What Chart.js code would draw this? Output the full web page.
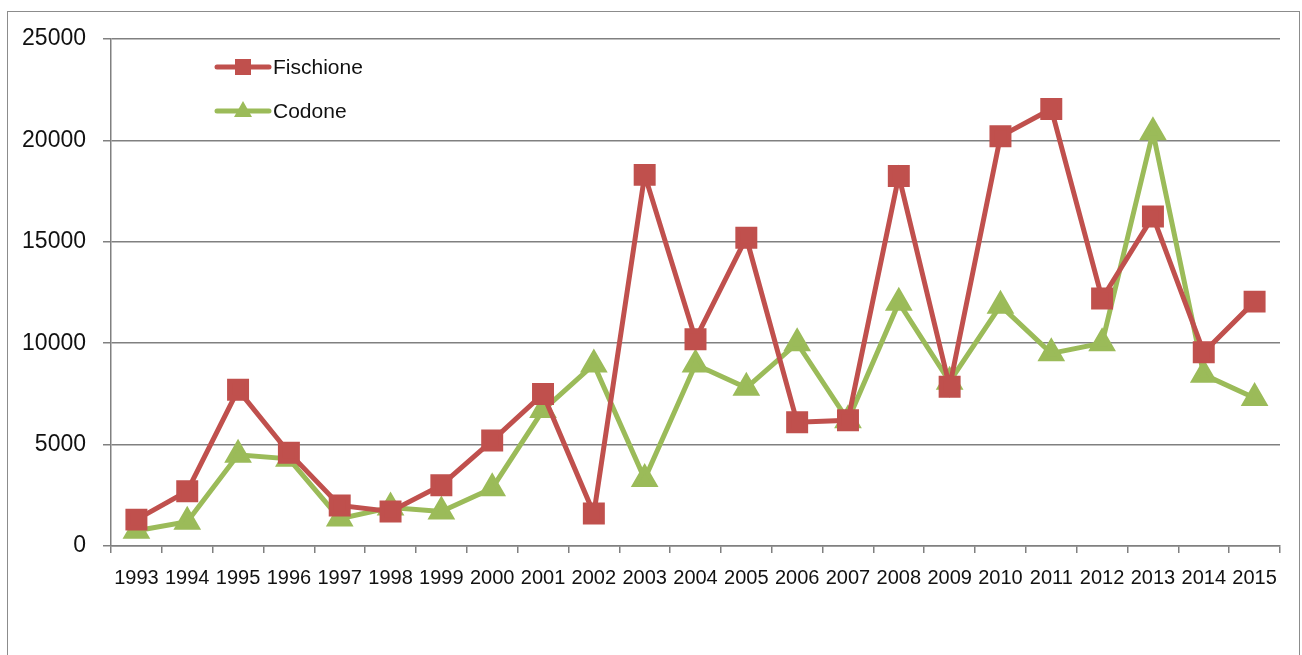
<!DOCTYPE html>
<html>
<head>
<meta charset="utf-8">
<script src="https://cdn.jsdelivr.net/npm/chart.js@4/dist/chart.umd.min.js"></script>
<style>
    html, body { margin: 0; padding: 0; background: #fff; overflow: hidden; }
    #wrap { position: absolute; left: 0; top: 0; width: 1302px; height: 655px; }
    #frame { position: absolute; left: 7px; top: 11px; width: 1291px; height: 700px; border: 1.5px solid #8c8c8c; }
</style>
</head>
<body>
<div id="frame"></div>
<div id="wrap"><canvas id="myChart"></canvas></div>
<script>
const years = [
    "1993", "1994", "1995", "1996", "1997", "1998", "1999", "2000", "2001", "2002", "2003", "2004",
    "2005", "2006", "2007", "2008", "2009", "2010", "2011", "2012", "2013", "2014", "2015"
];
const fischione = [
    1300, 2700, 7700, 4600, 2000, 1700, 3000, 5200, 7500, 1600, 18300, 10200,
    15200, 6100, 6200, 18250, 7850, 20200, 21550, 12200, 16250, 9550, 12050
];
const codone = [
    750, 1200, 4500, 4300, 1350, 1900, 1700, 2850, 6700, 8950, 3300, 8950,
    7800, 10000, 6200, 12000, 8100, 11850, 9500, 10000, 20400, 8450, 7300
];
const yTicks = [0, 5000, 10000, 15000, 20000, 25000];

const gridColor = "#808080";
const font = "'Liberation Sans', Arial, sans-serif";

// legend drawn inside the plot, top left
const insideLegend = {
    id: "insideLegend",
    afterDatasetsDraw(chart) {
        const ctx = chart.ctx;
        const area = chart.chartArea;
        const x0 = area.left + 106;
        let y = area.top + 28;
        ctx.save();
        chart.data.datasets.forEach((ds) => {
            ctx.strokeStyle = ds.borderColor;
            ctx.fillStyle = ds.borderColor;
            ctx.lineWidth = 5;
            ctx.lineCap = "round";
            ctx.beginPath();
            ctx.moveTo(x0, y);
            ctx.lineTo(x0 + 52, y);
            ctx.stroke();
            const cx = x0 + 26;
            ctx.beginPath();
            if (ds.pointStyle === "rect") {
                ctx.rect(cx - 8, y - 8, 16, 16);
            } else {
                ctx.moveTo(cx, y - 10);
                ctx.lineTo(cx + 9, y + 6);
                ctx.lineTo(cx - 9, y + 6);
                ctx.closePath();
            }
            ctx.fill();
            ctx.fillStyle = "#111";
            ctx.font = "21px " + font;
            ctx.textBaseline = "middle";
            ctx.fillText(ds.label, x0 + 56, y + 1);
            y += 44;
        });
        ctx.restore();
    }
};

const ctx = document.getElementById("myChart").getContext("2d");
new Chart(ctx, {
    type: "line",
    data: {
        labels: years,
        datasets: [
            {
                label: "Fischione",
                data: fischione,
                borderColor: "#C0504D",
                backgroundColor: "#C0504D",
                borderWidth: 5,
                pointStyle: "rect",
                pointRadius: 12,
                pointHoverRadius: 12,
                tension: 0,
            },
            {
                label: "Codone",
                data: codone,
                borderColor: "#9BBB59",
                backgroundColor: "#9BBB59",
                borderWidth: 5,
                pointStyle: "triangle",
                pointRadius: 11,
                pointHoverRadius: 11,
                tension: 0,
            },
        ],
    },
    options: {
        responsive: true,
        maintainAspectRatio: false,
        animation: false,
        layout: { padding: { left: 0, top: 39, right: 22, bottom: 0 } },
        plugins: {
            legend: { display: false },
            tooltip: { enabled: false },
        },
        scales: {
            x: {
                offset: true,
                grid: {
                    offset: true,
                    drawOnChartArea: false,
                    color: gridColor,
                    lineWidth: 1.5,
                    tickLength: 7,
                },
                border: { color: gridColor, width: 1.5 },
                ticks: {
                    color: "#111",
                    font: { family: font, size: 20 },
                    padding: 13,
                    maxRotation: 0,
                    autoSkip: false,
                },
                afterFit: (scale) => { scale.height = 109; },
            },
            y: {
                min: 0,
                max: 25000,
                afterBuildTicks: (scale) => {
                    scale.ticks = yTicks.map((v) => ({ value: v }));
                },
                grid: {
                    color: gridColor,
                    lineWidth: 1.5,
                    tickLength: 8,
                },
                border: { color: gridColor, width: 1.5 },
                ticks: {
                    color: "#111",
                    font: { family: font, size: 23 },
                    padding: 17,
                    callback: (v) => String(v),
                },
                afterFit: (scale) => { scale.width = 111; },
            },
        },
    },
    plugins: [insideLegend],
});
</script>
</body>
</html>
